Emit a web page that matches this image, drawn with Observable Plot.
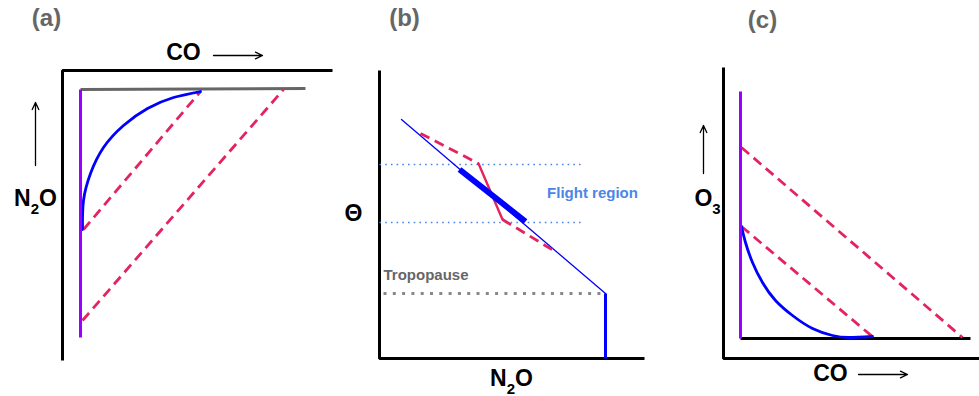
<!DOCTYPE html>
<html><head><meta charset="utf-8">
<script src="https://cdn.jsdelivr.net/npm/d3@7"></script>
<script src="https://cdn.jsdelivr.net/npm/@observablehq/plot@0.6"></script>
<style>body{margin:0;background:#fff} #chart svg{display:block}</style>
</head><body><div id="chart"></div>
<script>
// ---- Sketch data (schematic coordinates; y grows downward) ----
const panelLabels = ["(a)", "(b)", "(c)"];
const panelLabelX = [46, 404, 762];
const panelLabelY = [18, 18, 20];

const axisLabels = ["CO", "N2O", "Θ", "N2O", "O3", "CO"];
const axisLabelX = [183, 35, 353, 511, 707, 830];
const axisLabelY = [52, 198, 213, 378, 198, 373];

const noteLabels = ["Flight region", "Tropopause"];

// axis frames
const frameA = [[62, 360], [62, 70], [332, 70]];
const frameB = [[379, 70], [379, 358], [644, 358]];
const frameC = [[723, 67], [723, 358], [979, 358]];
const innerAxisC = [[740, 338], [970, 338]];

// direction arrows [x1, y1, x2, y2]
const arrows = [[213, 55, 262, 55], [35, 165, 35, 102], [703, 173, 703, 125], [858, 374, 907, 374]];

// panel (a): CO vs N2O
const stratA = [[80, 89], [305, 88]];
const tropA = [[80, 89], [80, 337]];
const curveA = [[82, 229], [83, 200], [90, 173], [103, 147], [123, 125], [147, 108], [173, 97], [200, 91]];
const mixA1 = [[83, 229], [200, 91]];
const mixA2 = [[82, 320], [283, 89]];

// panel (b): N2O vs Theta
const profileB = [[401, 119], [605, 293]];
const tropProfileB = [[605, 293], [605, 358]];
const flightB = [[459, 169], [525, 221]];
const mixB1 = [[420, 133], [478, 163]];
const mixB2 = [[478, 163], [502, 219]];
const mixB3 = [[502, 219], [553, 250]];
const flightTop = [[379, 164], [583, 164]];
const flightBottom = [[379, 222], [583, 222]];
const tropopause = [[383, 293], [603, 293]];

// panel (c): CO vs O3
const tropC = [[740, 91], [740, 338]];
const curveC = [[741, 226], [745, 242], [752, 262], [762, 282], [775, 300], [792, 315], [812, 328], [832, 335], [848, 337], [872, 336]];
const mixC1 = [[741, 147], [962, 337]];
const mixC2 = [[741, 226], [873, 337]];

// ---- build ----
const pts = a => a.map(([x, y]) => ({x, y}));
const RED = "#e3245f", BLUE = "#0000ff", PURPLE = "#9900ff";
const font = "Liberation Sans, Arial, Helvetica, sans-serif";
const seg = (a, o) => Plot.line(pts(a), {x: "x", y: "y", ...o});
const dashed = {stroke: RED, strokeWidth: 2.8, strokeDasharray: "10,6", strokeLinecap: "butt"};

const chart = Plot.plot({
  width: 979, height: 396, margin: 0,
  x: {domain: [0, 979], axis: null},
  y: {domain: [396, 0], axis: null},
  style: {fontFamily: font, background: "white", overflow: "visible"},
  marks: [
    // frames
    seg(frameA, {stroke: "black", strokeWidth: 3, strokeLinejoin: "miter", strokeLinecap: "butt"}),
    seg(frameB, {stroke: "black", strokeWidth: 3, strokeLinejoin: "miter", strokeLinecap: "butt"}),
    seg(frameC, {stroke: "black", strokeWidth: 3, strokeLinejoin: "miter", strokeLinecap: "butt"}),
    seg(innerAxisC, {stroke: "black", strokeWidth: 3, strokeLinecap: "butt"}),
    // panel a
    seg(stratA, {stroke: "#666", strokeWidth: 3, strokeLinecap: "butt"}),
    seg(mixA1, dashed),
    seg(mixA2, dashed),
    seg(curveA, {stroke: BLUE, strokeWidth: 2.8, curve: "natural"}),
    seg(tropA, {stroke: PURPLE, strokeWidth: 3, strokeLinecap: "butt"}),
    // panel b
    seg(flightTop, {stroke: "#4a86e8", strokeWidth: 1.6, strokeDasharray: "1.6,4.1", strokeLinecap: "butt"}),
    seg(flightBottom, {stroke: "#4a86e8", strokeWidth: 1.6, strokeDasharray: "1.6,4.1", strokeLinecap: "butt"}),
    seg(tropopause, {stroke: "#888", strokeWidth: 3, strokeDasharray: "3,6.3", strokeLinecap: "butt"}),
    seg(profileB, {stroke: BLUE, strokeWidth: 1.3}),
    seg(tropProfileB, {stroke: BLUE, strokeWidth: 3, strokeLinecap: "butt"}),
    seg(mixB1, dashed),
    seg(mixB2, {stroke: RED, strokeWidth: 2.4}),
    seg(mixB3, dashed),
    seg(flightB, {stroke: BLUE, strokeWidth: 6, strokeLinecap: "butt"}),
    // panel c
    seg(mixC1, dashed),
    seg(mixC2, dashed),
    seg(curveC, {stroke: BLUE, strokeWidth: 2.8, curve: "natural"}),
    seg(tropC, {stroke: PURPLE, strokeWidth: 3, strokeLinecap: "butt"}),
    // arrows
    Plot.arrow(arrows, {x1: d => d[0], y1: d => d[1], x2: d => d[2], y2: d => d[3], stroke: "black", strokeWidth: 1.3, headLength: 9, headAngle: 50}),
    // texts
    Plot.text(panelLabels, {x: (d, i) => panelLabelX[i], y: (d, i) => panelLabelY[i], text: d => d, fill: "#666", fontSize: 24, fontWeight: "bold"}),
    Plot.text(axisLabels, {x: (d, i) => axisLabelX[i], y: (d, i) => axisLabelY[i], text: d => d, fill: "black", fontSize: 23, fontWeight: "bold"}),
    Plot.text([noteLabels[0]], {x: 592, y: 193, text: d => d, fill: "#4a86e8", fontSize: 15, fontWeight: "bold"}),
    Plot.text([noteLabels[1]], {x: 383, y: 275, text: d => d, textAnchor: "start", fill: "#666", fontSize: 15, fontWeight: "bold"})
  ]
});

// chemical subscripts (N2O, O3) as real text with tspans
d3.select(chart).selectAll("text").each(function () {
  const s = this.textContent;
  const m = s.match(/^([A-Z]+)(\d)([A-Z]*)$/);
  if (!m) return;
  const t = d3.select(this);
  t.text(null);
  t.append("tspan").text(m[1]);
  t.append("tspan").attr("font-size", 15).attr("dy", 8).text(m[2]);
  if (m[3]) t.append("tspan").attr("dy", -8).text(m[3]);
});

document.getElementById("chart").append(chart);
</script>
</body></html>
